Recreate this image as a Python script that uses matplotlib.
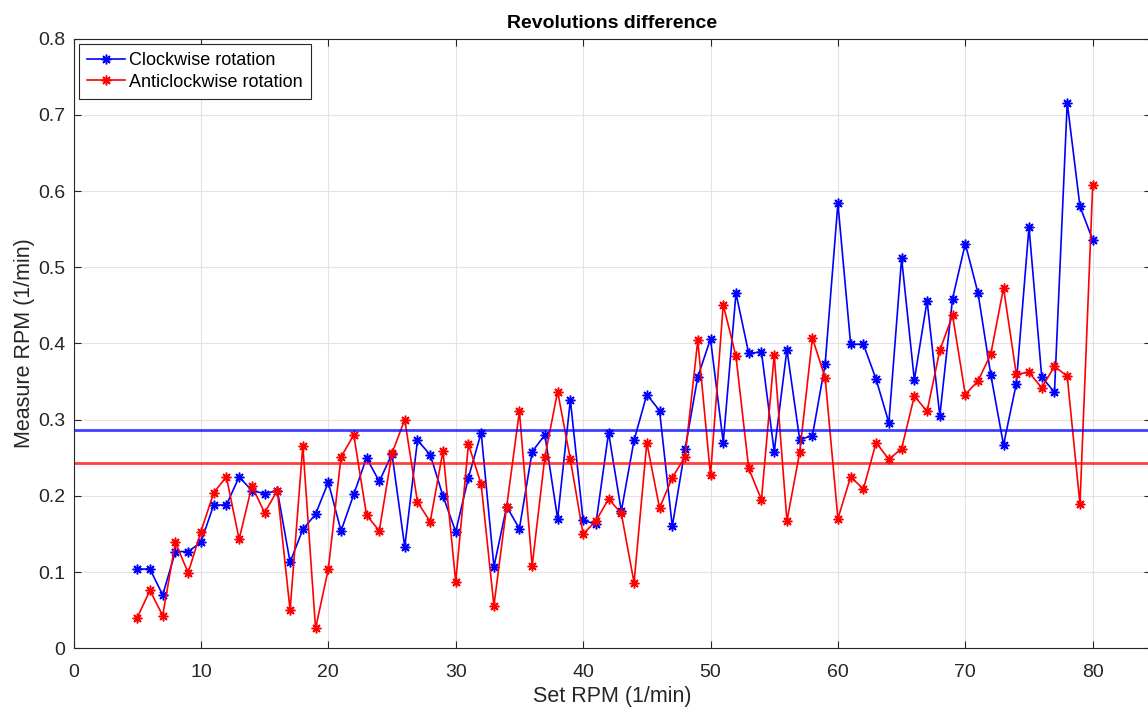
import matplotlib.pyplot as plt
import numpy as np

# datos
set_rpm = list(range(5, 81))

cw = [0.104, 0.104, 0.070, 0.127, 0.127, 0.139, 0.188, 0.188, 0.225, 0.207,
      0.203, 0.207, 0.113, 0.156, 0.176, 0.218, 0.154, 0.202, 0.250, 0.219,
      0.255, 0.133, 0.273, 0.254, 0.200, 0.153, 0.224, 0.283, 0.107, 0.186,
      0.157, 0.258, 0.280, 0.170, 0.326, 0.168, 0.163, 0.283, 0.180, 0.273,
      0.333, 0.312, 0.160, 0.261, 0.356, 0.406, 0.270, 0.466, 0.387, 0.389,
      0.258, 0.392, 0.274, 0.279, 0.373, 0.584, 0.399, 0.399, 0.353, 0.296,
      0.512, 0.352, 0.456, 0.305, 0.459, 0.531, 0.466, 0.359, 0.267, 0.347,
      0.553, 0.356, 0.336, 0.716, 0.580, 0.536]

acw = [0.040, 0.076, 0.043, 0.139, 0.099, 0.153, 0.204, 0.225, 0.143, 0.213,
       0.178, 0.207, 0.050, 0.266, 0.026, 0.104, 0.251, 0.280, 0.175, 0.154,
       0.256, 0.300, 0.192, 0.166, 0.259, 0.087, 0.268, 0.215, 0.056, 0.186,
       0.311, 0.108, 0.251, 0.337, 0.248, 0.150, 0.167, 0.196, 0.177, 0.086,
       0.270, 0.184, 0.224, 0.251, 0.404, 0.227, 0.451, 0.383, 0.236, 0.195,
       0.385, 0.167, 0.257, 0.407, 0.355, 0.170, 0.225, 0.209, 0.270, 0.248,
       0.262, 0.331, 0.311, 0.391, 0.437, 0.333, 0.351, 0.386, 0.473, 0.360,
       0.362, 0.342, 0.370, 0.357, 0.189, 0.608]

# lineas horizontales (promedios)
mean_cw = 0.2865
mean_acw = 0.2428

plt.rcParams['font.family'] = ['Liberation Sans', 'DejaVu Sans']

fig = plt.figure(figsize=(11.48, 7.09), dpi=100)
ax = fig.add_axes([73.5 / 1148, 60.7 / 709, 1077 / 1148, 609.6 / 709])

# asterisco tipo matlab
ast = (8, 2, 0)
ax.plot(set_rpm, cw, color='#0000ff', marker=ast, markersize=7,
        markeredgewidth=1.1, linewidth=1.2, label='Clockwise rotation')
ax.plot(set_rpm, acw, color='#ff0000', marker=ast, markersize=7,
        markeredgewidth=1.1, linewidth=1.2, label='Anticlockwise rotation')
ax.axhline(mean_cw, color='#0000ff', linewidth=2, alpha=0.75)
ax.axhline(mean_acw, color='#ff0000', linewidth=2, alpha=0.75)

ax.set_xlim(0, 1077 / 12.74)
ax.set_ylim(0, 0.8)
ax.set_xticks(np.arange(0, 81, 10))
ax.set_yticks(np.arange(0, 0.81, 0.1))
ax.set_yticklabels(['0', '0.1', '0.2', '0.3', '0.4', '0.5', '0.6', '0.7', '0.8'])

ax.grid(True, color='#e3e3e3', linewidth=0.8)
ax.set_axisbelow(True)
ax.tick_params(direction='in', top=True, right=True, labelsize=14,
               colors='#262626', length=5)
ax.tick_params(axis='x', pad=11)
ax.tick_params(axis='y', pad=6)
for s in ax.spines.values():
    s.set_color('#262626')
    s.set_linewidth(0.8)

ax.set_title('Revolutions difference', fontsize=14, fontweight='bold', pad=8)
ax.set_xlabel('Set RPM (1/min)', fontsize=15.5, color='#262626', labelpad=4)
ax.set_ylabel('Measure RPM (1/min)', fontsize=15.5, color='#262626', labelpad=2)

leg = ax.legend(loc='upper left', fontsize=13, frameon=True, fancybox=False,
                edgecolor='#262626', framealpha=1, borderpad=0.45,
                labelspacing=0.25, handlelength=2.1, handletextpad=0.22,
                borderaxespad=0.3)
leg.get_frame().set_linewidth(0.8)

plt.savefig('out.png', dpi=100)
